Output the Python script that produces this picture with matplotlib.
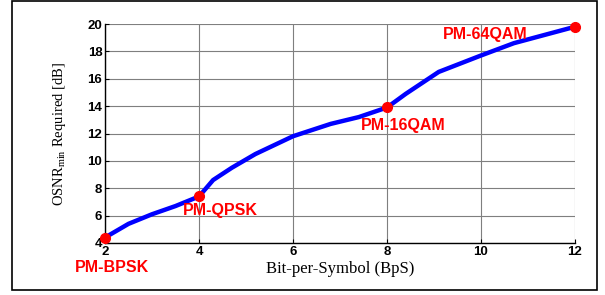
import matplotlib
matplotlib.use("Agg")
import matplotlib.pyplot as plt
import matplotlib.patches as patches

plt.rcParams["mathtext.fontset"] = "custom"
plt.rcParams["mathtext.rm"] = "Liberation Serif"

# Curve
bps = [2, 2.5, 3, 3.5, 4, 4.3, 4.7, 5.2, 6, 6.8, 7.4, 8, 8.4, 9.1, 10, 10.7, 12]
osnr = [4.4, 5.4, 6.1, 6.7, 7.4, 8.6, 9.5, 10.5, 11.8, 12.7, 13.2, 13.9, 14.9, 16.5, 17.7, 18.6, 19.8]

# Modulation formats marked on the curve
formats = ["PM-BPSK", "PM-QPSK", "PM-16QAM", "PM-64QAM"]
format_bps = [2, 4, 8, 12]
format_osnr = [4.4, 7.4, 13.9, 19.8]
# label offsets in data units (dx, dy)
label_offsets = [(0.15, -2.2), (0.45, -1.0), (0.35, -1.3), (-1.9, -0.6)]

xticks = [2, 4, 6, 8, 10, 12]
yticks = [4, 6, 8, 10, 12, 14, 16, 18, 20]

fig = plt.figure(figsize=(6.05, 2.95), dpi=100)
ax = fig.add_axes([0.1736, 0.1763, 0.7768, 0.7423])

# Outer frame around the whole figure
fig.patches.append(patches.Rectangle(
    (12 / 605, 5 / 295), 585 / 605, 289 / 295,
    transform=fig.transFigure, fill=False, edgecolor="black", linewidth=1.2
))

ax.plot(bps, osnr, color="#0000ff", linewidth=3.2, solid_capstyle="round", zorder=3)
ax.plot(format_bps, format_osnr, "o", color="#ff0000", markersize=7, zorder=4, clip_on=False)

for name, x, y, (dx, dy) in zip(formats, format_bps, format_osnr, label_offsets):
    ax.text(x + dx, y + dy, name, color="#ff0000", fontsize=11.5, fontweight="bold",
            family="Liberation Sans", ha="center", va="center", clip_on=False, zorder=5)

ax.set_xlim(2, 12)
ax.set_ylim(4, 20)
ax.set_xticks(xticks)
ax.set_yticks(yticks)
ax.tick_params(direction="in", length=3, labelsize=9.5, pad=2)
for lab in ax.get_xticklabels() + ax.get_yticklabels():
    lab.set_fontweight("bold")
    lab.set_family("Liberation Sans")
ax.grid(True, color="#7f7f7f", linewidth=0.8)
ax.set_axisbelow(True)
for side in ["top", "right"]:
    ax.spines[side].set_visible(False)
for side in ["left", "bottom"]:
    ax.spines[side].set_linewidth(1.0)

ax.set_xlabel("Bit-per-Symbol (BpS)", family="Liberation Serif", fontsize=12, labelpad=2)
ax.set_ylabel(r"OSNR$_{\mathrm{min}}$ Required [dB]", family="Liberation Serif",
              fontsize=10.5, labelpad=14)

fig.savefig("out.png", dpi=100)
